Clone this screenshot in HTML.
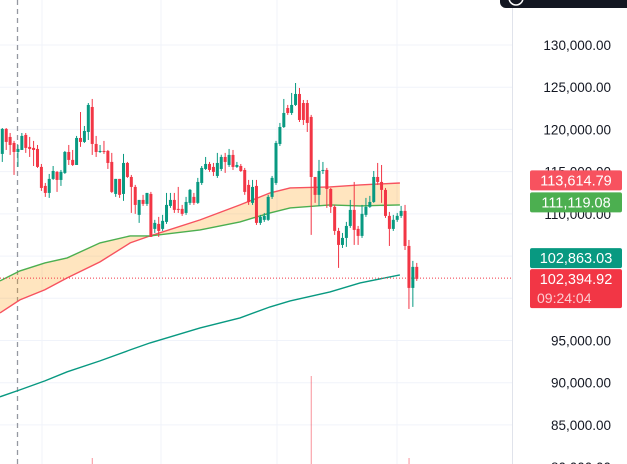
<!DOCTYPE html>
<html><head><meta charset="utf-8"><style>
html,body{margin:0;padding:0;background:#fff;width:627px;height:464px;overflow:hidden;font-family:"Liberation Sans",sans-serif}
svg{display:block}
</style></head><body>
<svg id="chart" width="627" height="464" xmlns="http://www.w3.org/2000/svg">
<g id="grid"></g>
<g id="vol"></g>
<g id="ma"></g>
<g id="candles"></g>
<g id="axis"></g>
<g id="labels"></g>
<rect x="500" y="-14" width="140" height="22" rx="6" fill="#131722"/>
<circle cx="516" cy="-2" r="7" fill="none" stroke="#fff" stroke-width="1.5"/>
</svg>
<script>
const opens=[117.10,120.06,119.11,118.40,117.33,117.57,119.35,117.93,117.81,117.69,115.56,113.31,112.48,114.14,114.97,114.02,114.85,117.33,116.39,115.79,118.99,118.52,119.70,122.66,118.28,117.33,117.45,117.45,116.15,112.36,114.14,112.36,116.03,114.37,113.19,109.88,111.65,111.18,112.36,108.22,108.81,108.22,109.05,110.94,111.65,110.59,110.59,110.11,111.30,112.01,111.30,113.66,115.32,115.91,115.56,114.49,115.32,116.74,115.79,116.98,115.56,115.67,115.20,113.43,111.30,113.31,108.93,109.29,109.29,112.01,113.66,118.28,120.29,122.54,121.95,122.90,124.20,123.13,123.13,121.48,114.37,112.25,115.08,115.20,112.95,110.83,107.98,106.32,107.15,108.57,110.47,108.22,107.39,109.88,110.83,111.41,114.37,113.78,112.84,109.76,108.22,109.29,109.76,110.35,106.20,101.23,103.72];
const highs=[120.17,120.17,119.58,118.64,118.16,119.58,119.58,119.11,118.64,118.16,115.91,113.66,114.73,115.67,115.08,115.20,117.45,118.16,117.57,119.23,122.07,120.41,123.13,123.61,119.23,118.16,118.64,117.57,117.22,114.14,114.14,117.10,116.15,114.61,113.43,111.65,112.25,112.48,112.60,109.29,109.64,109.88,112.48,112.48,112.48,113.19,111.06,112.01,112.95,112.48,114.26,115.67,116.74,116.15,116.03,117.22,117.00,117.22,117.69,117.57,116.15,115.91,115.44,114.02,114.02,114.02,109.88,110.11,112.25,114.49,118.64,120.77,123.61,122.90,124.32,125.50,124.91,123.49,123.49,121.72,114.37,116.39,116.15,115.44,113.07,111.06,108.34,107.74,109.05,111.65,113.78,108.57,111.06,111.89,112.13,115.08,116.03,115.79,113.07,110.23,109.88,110.11,110.94,111.06,106.91,104.43,104.19];
const lows=[116.15,117.57,116.98,114.61,115.56,117.57,117.22,116.74,115.67,115.44,112.72,112.01,111.89,114.02,112.60,113.31,114.73,115.79,115.67,115.79,117.93,118.40,118.75,116.98,116.74,117.22,117.10,115.32,112.48,112.01,111.89,111.54,114.26,110.11,110.00,108.93,110.94,110.94,107.27,107.74,107.27,107.98,108.81,110.71,110.11,110.11,109.76,109.88,111.06,111.06,111.18,113.43,115.20,114.97,114.49,114.26,115.08,114.85,115.56,115.20,115.44,114.97,112.25,111.06,111.06,108.69,108.69,109.05,109.17,111.77,113.43,118.04,120.17,121.72,121.72,122.78,120.88,120.53,119.70,107.51,111.30,110.94,114.73,110.71,110.11,107.51,103.60,105.96,106.09,108.34,106.32,106.32,107.15,109.64,110.71,111.30,113.43,111.30,109.52,106.20,107.98,109.05,109.52,105.72,98.74,98.98,102.06];
const closes=[120.06,118.52,118.16,117.33,117.69,119.23,117.81,117.69,117.57,115.56,113.07,112.48,114.14,115.08,114.02,114.97,117.33,116.39,115.79,118.99,118.52,119.82,122.90,118.28,117.33,117.45,117.33,116.03,112.60,114.14,112.25,116.03,114.37,113.19,111.06,111.65,111.18,112.48,107.27,108.93,107.98,109.17,111.06,111.65,110.47,110.47,110.00,111.41,112.84,111.30,113.78,115.44,115.91,115.20,114.97,116.03,116.74,116.15,116.98,115.56,115.79,115.08,112.60,111.41,113.19,108.93,109.64,109.76,112.01,114.26,118.40,120.29,121.95,121.95,122.90,124.20,121.12,121.12,120.77,114.37,112.25,115.08,115.20,112.95,110.83,107.98,106.32,107.15,108.57,110.47,108.10,107.39,110.00,110.83,111.41,114.37,113.78,112.84,109.76,108.22,109.29,109.76,110.35,106.20,101.23,103.72,102.30];
const volumes=[0,0,0,0,0,0,0,0,0,0,0,0,0,0,0,0,0,0,0,0,0,0,0,6,0,0,0,0,0,0,0,0,0,0,0,0,0,0,0,0,0,0,0,0,0,0,0,0,0,0,0,0,0,0,0,0,0,0,0,0,0,0,0,0,0,0,0,0,0,0,0,0,0,0,0,0,0,0,0,88,0,0,0,0,0,0,0,0,0,0,0,0,0,0,0,0,0,0,0,0,0,0,0,0,6,0,0];
const maIndex=[-0.6,4.5,10.9,16.6,25,32.7,37.8,50.6,60.8,68.5,73.6,83.8,91.5,101.7];
const maRed=[98.27,99.81,101.0,102.42,104.31,106.56,107.39,109.29,111.06,112.48,113.07,113.19,113.43,113.66];
const maGreen=[102.06,103.24,104.19,104.78,106.56,107.39,107.39,108.10,109.05,110.11,110.71,111.06,110.94,111.06];
const maTeal=[88.33,89.15,90.22,91.29,92.59,93.89,94.72,96.49,97.68,98.98,99.69,100.76,101.82,102.77];
const tickValues=[130,125,120,115,110,105,100,95,90,85,80];
const tickLabels=["130,000.00","125,000.00","120,000.00","115,000.00","110,000.00","105,000.00","100,000.00","95,000.00","90,000.00","85,000.00","80,000.00"];
const lastRed=113614.79, lastGreen=111119.08, lastTeal=102863.03, lastPrice=102394.92;
const countdown="09:24:04";

const NS="http://www.w3.org/2000/svg";
function y(p){return 45+(130-p)*8.443;}
function x(i){return 2.3+3.91*i;}
function vy(v){return 464-v;}
function mk(tag,attrs,parent){const e=document.createElementNS(NS,tag);for(const k in attrs)e.setAttribute(k,attrs[k]);parent.appendChild(e);return e;}
const G=document.getElementById('grid');
tickValues.forEach(function(t){
  const l=mk('line',{x1:0,x2:512,y1:y(t),y2:y(t),stroke:'#f0f3fa','stroke-width':1},G);
  
  
});
[42,161,277,397].forEach(function(gx){
  const l=mk('line',{x1:gx,x2:gx,y1:0,y2:464,stroke:'#f0f3fa','stroke-width':1},G);
  
  
});
const sep=mk('line',{x1:512.5,x2:512.5,y1:0,y2:464,stroke:'#e0e3eb','stroke-width':1},G);


const dv=mk('line',{x1:17.5,x2:17.5,y1:0,y2:464,stroke:'#9598a1','stroke-width':1.3,'stroke-dasharray':'5,4'},G);


const V=document.getElementById('vol');
volumes.forEach(function(v,i){
  if(v<=0)return;
  const r=mk('rect',{x:x(i)-0.5,y:vy(v),width:1.2,height:v,fill:closes[i]>=opens[i]?'rgba(8,153,129,0.45)':'rgba(242,54,69,0.45)'},V);
  
  
});
const M=document.getElementById('ma');
function pts(arr){return arr.map(function(v,i){return x(maIndex[i]).toFixed(1)+','+y(v).toFixed(1);});}
const fillPts=pts(maRed).concat(pts(maGreen).reverse()).join(' ');
const fill=mk('polygon',{points:fillPts,fill:'rgba(255,152,0,0.25)'},M);


const lr=mk('polyline',{points:pts(maRed).join(' '),fill:'none',stroke:'#f7525f','stroke-width':1.4},M);


const lg=mk('polyline',{points:pts(maGreen).join(' '),fill:'none',stroke:'#4caf50','stroke-width':1.4},M);


const lt=mk('polyline',{points:pts(maTeal).join(' '),fill:'none',stroke:'#089981','stroke-width':1.4},M);


const pl=mk('line',{x1:0,x2:512,y1:y(lastPrice/1000),y2:y(lastPrice/1000),stroke:'#f23645','stroke-width':1,'stroke-dasharray':'1,2'},M);


const C=document.getElementById('candles');
opens.forEach(function(o,i){
  const c=closes[i],up=c>=o,col=up?'#089981':'#f23645',cx=x(i);
  const w=mk('line',{x1:cx,x2:cx,y1:y(highs[i]),y2:y(lows[i]),stroke:col,'stroke-width':1},C);
  
  
  const top=y(Math.max(o,c)),h=Math.max(1,Math.abs(y(o)-y(c)));
  const b=mk('rect',{x:cx-1.5,y:top,width:3,height:h,fill:col},C);
  
  
});
const A=document.getElementById('axis');
tickValues.forEach(function(t,i){
  const tx=mk('text',{x:611,y:y(t)+5,'text-anchor':'end','font-size':13.5,fill:'#131722'},A);
  tx.textContent=tickLabels[i];
  
  
});
const L=document.getElementById('labels');
function fmt(v){return v.toLocaleString('en-US',{minimumFractionDigits:2,maximumFractionDigits:2});}
function tag(val,col,name,h,extra,shift){
  const cy=y(val/1000),top=cy-10+(shift||0);
  const r=mk('rect',{x:530,y:top,width:92,height:h,rx:2,fill:col},L);
  
  
  const t=mk('text',{x:576,y:top+15,'text-anchor':'middle','font-size':14.5,fill:'#fff'},L);
  t.textContent=fmt(val);
  
  
  if(extra){
    const t2=mk('text',{x:537,y:top+34,'font-size':14,fill:'rgba(255,255,255,0.75)'},L);
    t2.textContent=extra;
    
    
  }
}
tag(lastRed,'#f7525f','ma-red-tag',20,null,-3);
tag(lastGreen,'#4caf50','ma-green-tag',20,null,-2);
tag(lastTeal,'#089981','ma-teal-tag',20,null,-16);
tag(lastPrice,'#f23645','last-price-tag',39,countdown,1);
</script>
</body></html>
